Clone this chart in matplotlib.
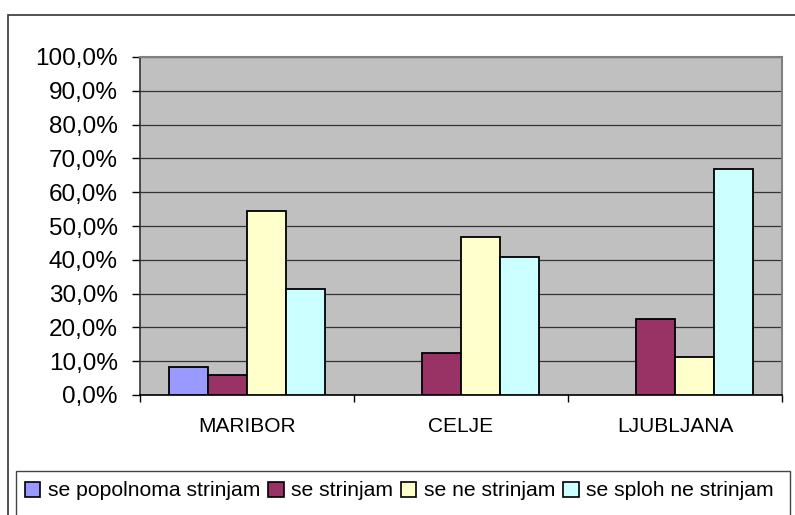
import matplotlib
matplotlib.use("Agg")
import matplotlib.pyplot as plt
from matplotlib.patches import Rectangle
import numpy as np

plt.rcParams['font.family'] = ['Liberation Sans', 'DejaVu Sans']

categories = ["MARIBOR", "CELJE", "LJUBLJANA"]
series_names = ["se popolnoma strinjam", "se strinjam", "se ne strinjam", "se sploh ne strinjam"]
popolnoma = [8.2, 0.0, 0.0]
strinjam = [5.8, 12.5, 22.5]
ne_strinjam = [54.3, 46.8, 11.1]
sploh_ne = [31.3, 40.7, 66.9]
series_values = [popolnoma, strinjam, ne_strinjam, sploh_ne]
colors = ["#9999FF", "#993366", "#FFFFCC", "#CCFFFF"]
y_ticks = [0, 10, 20, 30, 40, 50, 60, 70, 80, 90, 100]
y_ticklabels = ["0,0%", "10,0%", "20,0%", "30,0%", "40,0%", "50,0%", "60,0%",
                "70,0%", "80,0%", "90,0%", "100,0%"]

W, H = 795, 515
fig = plt.figure(figsize=(W / 100, H / 100), dpi=100)

# outer chart border
fig.patches.append(Rectangle((8 / W, -0.05), 1.0, 1 - 15 / H + 0.05,
                             transform=fig.transFigure, fill=False,
                             edgecolor="#333333", linewidth=1.2, zorder=0))

ax = fig.add_axes([140 / W, 1 - 395 / H, 642 / W, 338 / H])
ax.set_facecolor("#C0C0C0")

x = np.arange(len(categories))
bw = 0.182
handles = []
for i, (vals, col, name) in enumerate(zip(series_values, colors, series_names)):
    offs = (i - 1.5) * bw
    ecs = ["black" if v > 0 else "none" for v in vals]
    ax.bar(x + offs, vals, width=bw, color=col, edgecolor=ecs,
           linewidth=1.3, zorder=3, label=name)
    handles.append(Rectangle((0, 0), 1, 1, facecolor=col, edgecolor="black", linewidth=1.2))

ax.set_xlim(-0.5, len(categories) - 0.5)
ax.set_ylim(0, 100)
ax.set_yticks(y_ticks)
ax.set_yticklabels(y_ticklabels, fontsize=17.5)
ax.yaxis.grid(True, color="#333333", linewidth=0.9, zorder=1)
ax.set_axisbelow(True)

ax.set_xticks(x)
ax.set_xticklabels(categories, fontsize=15)
ax.set_xticks(np.arange(-0.5, len(categories), 1.0), minor=True)
ax.tick_params(axis="x", which="major", length=0, pad=16)
ax.tick_params(axis="x", which="minor", length=5, width=1, direction="out", color="black")
ax.tick_params(axis="y", length=6, width=1, direction="out", color="black", pad=10)

for s in ["top", "right"]:
    ax.spines[s].set_color("#808080")
    ax.spines[s].set_linewidth(1.5)
ax.spines["left"].set_color("#333333")
ax.spines["left"].set_linewidth(1.2)
ax.spines["bottom"].set_color("black")
ax.spines["bottom"].set_linewidth(1.2)

# legend box
fig.patches.append(Rectangle((16 / W, -0.05), (790 - 16) / W, 1 - 471 / H + 0.05,
                             transform=fig.transFigure, facecolor="white",
                             edgecolor="#444444", linewidth=1.0, zorder=1))
leg = fig.legend(handles, series_names, loc="center left",
                 bbox_to_anchor=(21 / W, 1 - 491 / H), ncol=4, frameon=False,
                 fontsize=15.2, handlelength=0.72, handleheight=0.72,
                 handletextpad=0.36, columnspacing=0.38, borderpad=0.2,
                 borderaxespad=0)
leg.set_zorder(2)

fig.savefig("out.png", dpi=100)
